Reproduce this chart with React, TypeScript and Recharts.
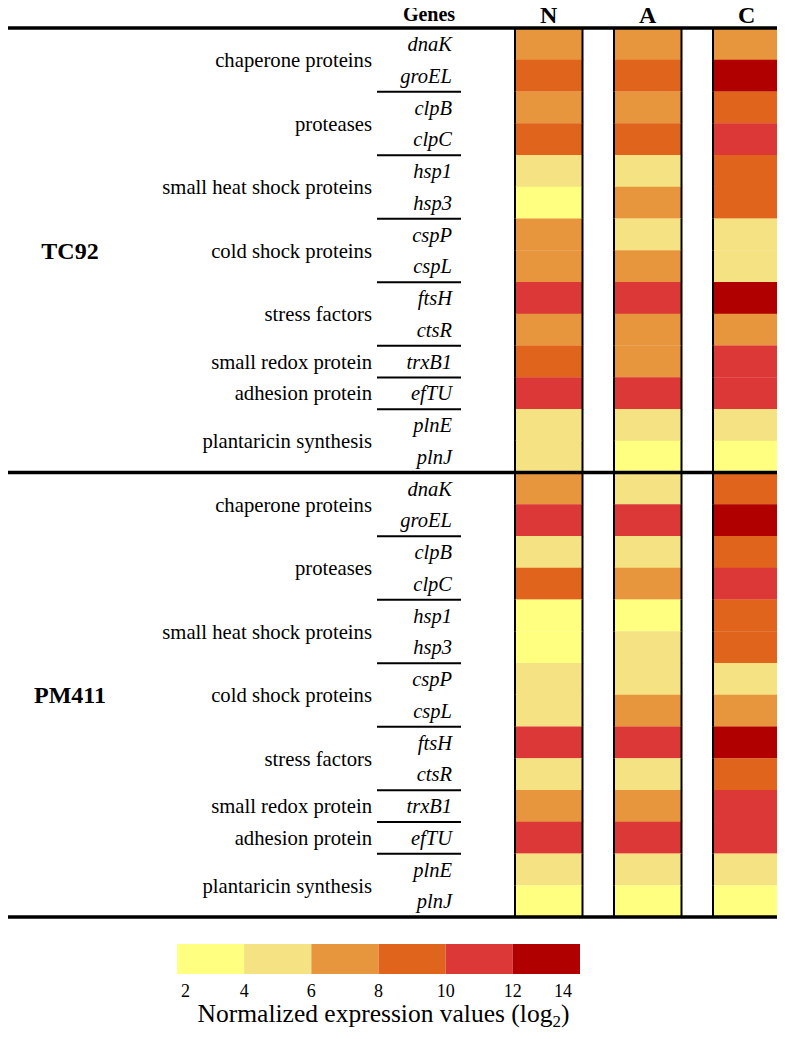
import { BarChart, Bar, XAxis, YAxis, ReferenceLine } from 'recharts';

const strains = ['TC92', 'PM411'];
const conditions = ['N', 'A', 'C'];
const genes = ['dnaK', 'groEL', 'clpB', 'clpC', 'hsp1', 'hsp3', 'cspP', 'cspL', 'ftsH', 'ctsR', 'trxB1', 'efTU', 'plnE', 'plnJ'];
const groupNames = [
  'chaperone proteins',
  'proteases',
  'small heat shock proteins',
  'cold shock proteins',
  'stress factors',
  'small redox protein',
  'adhesion protein',
  'plantaricin synthesis',
];
const groupSizes = [2, 2, 2, 2, 2, 1, 1, 2];

// log2 expression, read as the middle of each colour bin
const tc92N = [7, 9, 7, 9, 5, 3, 7, 7, 11, 7, 9, 11, 5, 5];
const tc92A = [7, 9, 7, 9, 5, 7, 5, 7, 11, 7, 7, 11, 5, 3];
const tc92C = [7, 13, 9, 11, 9, 9, 5, 5, 13, 7, 11, 11, 5, 3];
const pm411N = [7, 11, 5, 9, 3, 3, 5, 5, 11, 5, 7, 11, 5, 3];
const pm411A = [5, 11, 5, 7, 3, 5, 5, 7, 11, 5, 7, 11, 5, 3];
const pm411C = [9, 13, 9, 11, 9, 9, 5, 7, 13, 9, 11, 11, 5, 3];

const legendBreaks = [2, 4, 6, 8, 10, 12, 14];
const legendColors = ['#FFFF80', '#F5E283', '#E8963E', '#E0641C', '#DC3838', '#B00000'];

const SERIF = 'Liberation Serif, Times New Roman, serif';

// horizontal layout of the table (label area, cell columns and the white gaps)
const LABEL_SPAN = 513;
const CELL_SPAN = 67.5;
const GAP_SPAN = 31.5;
const X_MAX = 781;

const seriesByStrain: Record<string, Record<string, number[]>> = {
  TC92: { N: tc92N, A: tc92A, C: tc92C },
  PM411: { N: pm411N, A: pm411A, C: pm411C },
};

const colorFor = (v: number) => {
  for (let i = 0; i < legendColors.length; i++) {
    if (v < legendBreaks[i + 1]) return legendColors[i];
  }
  return legendColors[legendColors.length - 1];
};

// gene index -> group it starts / ends
const groupStarts: Record<number, { name: string; size: number }> = {};
const groupEnds: Record<number, boolean> = {};
let acc = 0;
groupNames.forEach((name, i) => {
  groupStarts[acc] = { name, size: groupSizes[i] };
  acc += groupSizes[i];
  groupEnds[acc - 1] = true;
});

const rows = strains.flatMap((strain, s) =>
  genes.map((gene, g) => ({
    id: `${strain}-${gene}`,
    strain,
    strainIndex: s,
    gene,
    geneIndex: g,
    pad: LABEL_SPAN,
    N: CELL_SPAN,
    gapNA: GAP_SPAN,
    A: CELL_SPAN,
    gapAC: GAP_SPAN,
    C: CELL_SPAN,
    valN: seriesByStrain[strain].N[g],
    valA: seriesByStrain[strain].A[g],
    valC: seriesByStrain[strain].C[g],
  }))
);

// header ticks: "Genes" above the gene names, then one per column centre
const headerTicks = [LABEL_SPAN - 86, ...conditions.map((_, i) => LABEL_SPAN + i * (CELL_SPAN + GAP_SPAN) + CELL_SPAN / 2)];
const headerLabels = ['Genes', ...conditions];

const legendRow = [
  legendBreaks.slice(1).reduce(
    (o: any, b, i) => {
      o[`seg${i}`] = b - legendBreaks[i];
      return o;
    },
    { name: 'legend', base: legendBreaks[0] }
  ),
];

const LabelShape = (props: any) => {
  const { x, y, width, height, payload } = props;
  const right = x + width;
  const g = payload.geneIndex;
  const grp = groupStarts[g];
  return (
    <g>
      <text x={right - 63} y={y + height / 2} dy="0.35em" textAnchor="end" style={{ fontFamily: SERIF, fontStyle: 'italic', fontSize: 20.5 }} fill="#000">
        {payload.gene}
      </text>
      {grp && (
        <text
          x={right - 143}
          y={grp.size === 2 ? y + height : y + height / 2}
          dy="0.35em"
          textAnchor="end"
          style={{ fontFamily: SERIF, fontSize: 20.7 }}
          fill="#000"
        >
          {grp.name}
        </text>
      )}
      {groupEnds[g] && g !== genes.length - 1 && (
        <line x1={right - 138} x2={right - 54} y1={y + height} y2={y + height} stroke="#000" strokeWidth={2} />
      )}
      {g === 6 && (
        <text x={x + 68} y={y + height} dy="0.35em" textAnchor="middle" style={{ fontFamily: SERIF, fontWeight: 'bold', fontSize: 24 }} fill="#000">
          {payload.strain}
        </text>
      )}
    </g>
  );
};

const makeCellShape = (cond: string) => (props: any) => {
  const { x, y, width, height, payload } = props;
  return (
    <g>
      <rect x={x} y={y} width={width} height={height} fill={colorFor(payload[`val${cond}`])} />
      <line x1={x} x2={x} y1={y} y2={y + height} stroke="#000" strokeWidth={2} />
      <line x1={x + width} x2={x + width} y1={y} y2={y + height} stroke="#000" strokeWidth={2} />
    </g>
  );
};

const HeaderTick = (props: any) => {
  const { x, payload, index } = props;
  const label = headerLabels[index];
  const isGenes = index === 0;
  return (
    <text
      x={x}
      y={isGenes ? 21 : 23}
      textAnchor="middle"
      style={{ fontFamily: SERIF, fontWeight: 'bold', fontSize: isGenes ? 20 : 24 }}
      fill="#000"
    >
      {label ?? payload.value}
    </text>
  );
};

const LegendTick = (props: any) => {
  const { x, y, payload, index } = props;
  const last = legendBreaks.length - 1;
  const anchor = index === 0 ? 'start' : index === last ? 'end' : 'middle';
  const dx = index === 0 ? 4 : index === last ? -8 : 0;
  return (
    <text x={x + dx} y={y + 23} textAnchor={anchor} style={{ fontFamily: SERIF, fontSize: 18 }} fill="#000">
      {payload.value}
    </text>
  );
};

const LegendTitle = (props: any) => {
  const vb = props.viewBox || props;
  return (
    <text x={vb.x + vb.width / 2 + 5} y={vb.y + 48} textAnchor="middle" style={{ fontFamily: SERIF, fontSize: 25.5 }} fill="#000">
      Normalized expression values (log
      <tspan style={{ fontSize: 17 }} dy={5}>2</tspan>
      <tspan dy={-5}>)</tspan>
    </text>
  );
};

export default function App() {
  const lastRow = rows[rows.length - 1].id;
  const strainFirstRows = strains.map((s) => `${s}-${genes[0]}`);
  return (
    <div style={{ position: 'relative', width: 769, height: 1020, fontFamily: SERIF }}>
      <div style={{ position: 'absolute', left: -8, top: -8 }}>
        <BarChart
          width={785}
          height={925}
          data={rows}
          layout="vertical"
          margin={{ top: 0, right: 2, bottom: 8, left: 2 }}
          barCategoryGap={0}
          barGap={0}
        >
          <XAxis
            type="number"
            orientation="top"
            domain={[0, X_MAX]}
            ticks={headerTicks}
            interval={0}
            height={28}
            axisLine={false}
            tickLine={false}
            tick={HeaderTick}
          />
          <YAxis type="category" dataKey="id" hide />
          <Bar dataKey="pad" stackId="t" fill="transparent" shape={LabelShape} isAnimationActive={false} />
          <Bar dataKey="N" stackId="t" shape={makeCellShape('N')} isAnimationActive={false} />
          <Bar dataKey="gapNA" stackId="t" fill="transparent" isAnimationActive={false} />
          <Bar dataKey="A" stackId="t" shape={makeCellShape('A')} isAnimationActive={false} />
          <Bar dataKey="gapAC" stackId="t" fill="transparent" isAnimationActive={false} />
          <Bar dataKey="C" stackId="t" shape={makeCellShape('C')} isAnimationActive={false} />
          {strainFirstRows.map((id) => (
            <ReferenceLine key={id} y={id} position="start" stroke="#000" strokeWidth={3.5} />
          ))}
          <ReferenceLine y={lastRow} position="end" stroke="#000" strokeWidth={3.5} />
        </BarChart>
      </div>
      <div style={{ position: 'absolute', left: -8, top: 922 }}>
        <BarChart
          width={785}
          height={109}
          data={legendRow}
          layout="vertical"
          margin={{ top: 14, right: 205, bottom: 0, left: 177 }}
          barCategoryGap={0}
        >
          <XAxis
            type="number"
            domain={[legendBreaks[0], legendBreaks[legendBreaks.length - 1]]}
            ticks={legendBreaks}
            allowDataOverflow
            axisLine={false}
            tickLine={false}
            tickSize={0}
            tickMargin={0}
            height={65}
            tick={LegendTick}
            interval={0}
            label={{ content: LegendTitle }}
          />
          <YAxis type="category" dataKey="name" hide />
          <Bar dataKey="base" stackId="l" fill="transparent" isAnimationActive={false} />
          {legendColors.map((c, i) => (
            <Bar key={c} dataKey={`seg${i}`} stackId="l" fill={c} isAnimationActive={false} />
          ))}
        </BarChart>
      </div>
    </div>
  );
}
